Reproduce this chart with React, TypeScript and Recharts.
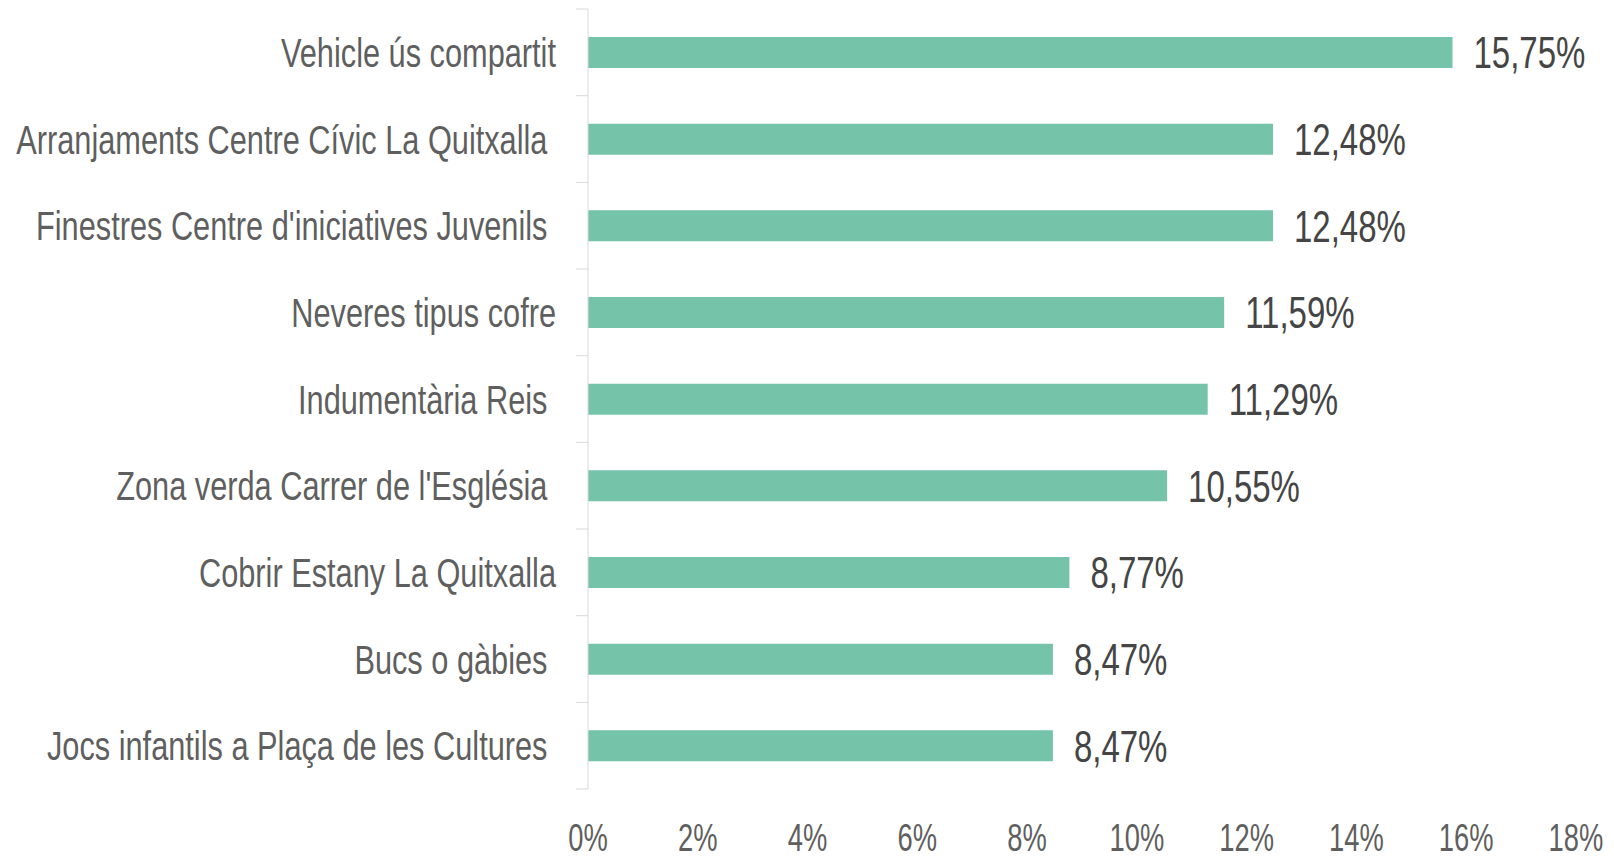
import { Bar, BarChart, LabelList, XAxis, YAxis } from "recharts";

const categories = [
  "Vehicle ús compartit",
  "Arranjaments Centre Cívic La Quitxalla ",
  "Finestres Centre d'iniciatives Juvenils ",
  "Neveres tipus cofre",
  "Indumentària Reis ",
  "Zona verda Carrer de l'Església ",
  "Cobrir Estany La Quitxalla",
  "Bucs o gàbies ",
  "Jocs infantils a Plaça de les Cultures ",
];
const shares = [15.75, 12.48, 12.48, 11.59, 11.29, 10.55, 8.77, 8.47, 8.47];
const xTicks = [0, 2, 4, 6, 8, 10, 12, 14, 16, 18];

// no narrow font installed, so squeeze Liberation Sans horizontally
const FONT = '"Liberation Sans", Arial, sans-serif';
const SQUEEZE = 0.75;
const TEXT = "#5f5f5f";
const AXIS = "#d9d9d9";

const W = 1614;
const H = 859;
const M = { top: 9, right: 38, bottom: 10, left: 0 };
const X_AXIS_H = 60;
const BAND = (H - M.top - M.bottom - X_AXIS_H) / categories.length;

const data = categories.map((name, i) => ({ name, value: shares[i] }));

const pct = (v: any) => `${Number(v).toFixed(2).replace(".", ",")}%`;

function CategoryTick(props: any) {
  const { x, y, payload, index } = props;
  return (
    <g>
      <line x1={x - 12} x2={x} y1={y - BAND / 2} y2={y - BAND / 2} stroke={AXIS} />
      {index === categories.length - 1 && (
        <line x1={x - 12} x2={x} y1={y + BAND / 2} y2={y + BAND / 2} stroke={AXIS} />
      )}
      <text
        transform={`translate(${x - 32}, ${y}) scale(${SQUEEZE}, 1)`}
        dy="0.36em"
        textAnchor="end"
        fill={TEXT}
        fontSize={41}
        fontFamily={FONT}
        style={{ whiteSpace: "pre" }}
      >
        {payload.value}
      </text>
    </g>
  );
}

function PercentTick(props: any) {
  const { x, y, payload } = props;
  return (
    <text
      transform={`translate(${x}, ${y}) scale(${SQUEEZE * 0.96}, 1)`}
      dy="0.71em"
      textAnchor="middle"
      fill={TEXT}
      fontSize={38}
      fontFamily={FONT}
    >
      {`${payload.value}%`}
    </text>
  );
}

function ValueLabel(props: any) {
  const { x, y, width, height, value } = props;
  return (
    <text
      transform={`translate(${x + width + 21}, ${y + height / 2}) scale(${SQUEEZE}, 1)`}
      dy="0.36em"
      textAnchor="start"
      fill="#454545"
      fontSize={44}
      fontFamily={FONT}
    >
      {pct(value)}
    </text>
  );
}

export default function App() {
  return (
    <div style={{ position: "absolute", left: 0, top: 0, background: "#fff" }}>
      <BarChart width={W} height={H} data={data} layout="vertical" margin={M} barSize={31}>
        <XAxis
          type="number"
          domain={[0, 18]}
          ticks={xTicks}
          axisLine={false}
          tickLine={false}
          tickSize={0}
          tickMargin={35}
          height={X_AXIS_H}
          interval={0}
          tick={<PercentTick />}
        />
        <YAxis
          type="category"
          dataKey="name"
          width={588}
          axisLine={{ stroke: AXIS }}
          tickLine={false}
          tickSize={0}
          tickMargin={0}
          interval={0}
          tick={<CategoryTick />}
        />
        <Bar dataKey="value" fill="#75c3a8" isAnimationActive={false}>
          <LabelList dataKey="value" content={<ValueLabel />} />
        </Bar>
      </BarChart>
    </div>
  );
}
